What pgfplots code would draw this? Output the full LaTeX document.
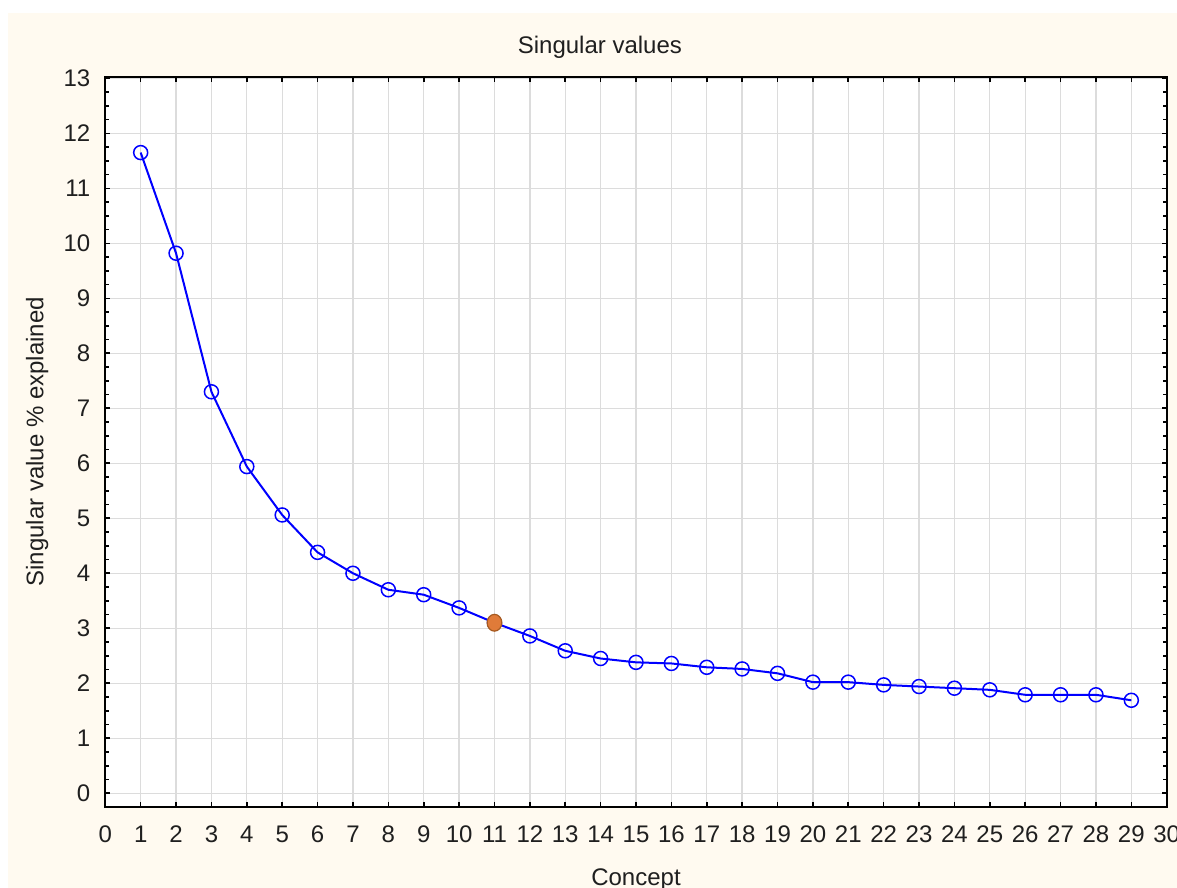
\documentclass[border=0pt]{standalone}
\usepackage{fontspec}
\setmainfont{Liberation Sans}
\usepackage{pgfplots}
\pgfplotsset{compat=1.18}
\definecolor{cream}{HTML}{FFFAF0}
\definecolor{gridgray}{HTML}{DCDCDC}
\definecolor{dotorange}{HTML}{E07B39}
\definecolor{dotedge}{HTML}{A65A20}
\begin{document}
\fontsize{12}{14}\selectfont
\begin{tikzpicture}
\path[use as bounding box, fill=white] (-52.65pt,-40.65pt) rectangle (535.85pt,403.35pt);
\fill[cream] (-48.65pt,-40.65pt) rectangle (535.85pt,396.85pt);
\begin{axis}[
  scale only axis, width=530.7pt, height=365pt,
  xmin=0, xmax=30, ymin=-0.245, ymax=13.03,
  xtick={0,...,30}, ytick={0,...,13},
  minor y tick num=3,
  grid=major, major grid style={gridgray, line width=0.65pt},
  tick align=inside,
  major tick length=2.5pt, minor tick length=2pt,
  every tick/.style={black, line width=0.8pt},
  axis line style={black, line width=1pt},
  axis background/.style={fill=white},
  tick label style={font=\fontsize{12}{14}\selectfont, text=black!88},
  /pgf/number format/assume math mode=true,
  xticklabel style={yshift=-5.2pt},
  yticklabel style={xshift=-3.3pt},
  every axis title shift=0pt,
  title={Singular values},
  title style={at={(axis description cs:0.466,1.0311)}, anchor=base, text=black!88},
  xlabel={Concept},
  xlabel style={at={(axis description cs:0.5,-0.1073)}, anchor=base, text=black!88},
  ylabel={Singular value \% explained},
  ylabel style={at={(axis description cs:-0.0584,0.5)}, anchor=base, text=black!88},
]
\addplot[blue, line width=1pt, mark=o, mark size=3.5pt, mark options={solid, line width=0.75pt}] coordinates {
(1,11.65) (2,9.82) (3,7.30) (4,5.94) (5,5.06) (6,4.38) (7,4.00) (8,3.70) (9,3.61) (10,3.37)
(11,3.10) (12,2.86) (13,2.59) (14,2.45) (15,2.38) (16,2.36) (17,2.29) (18,2.26) (19,2.18) (20,2.02)
(21,2.02) (22,1.97) (23,1.94) (24,1.91) (25,1.88) (26,1.79) (27,1.79) (28,1.79) (29,1.69)
};
\addplot[only marks, mark=*, mark size=4pt, mark options={fill=dotorange, draw=dotedge, line width=0.6pt, xscale=0.92, yscale=1.05}] coordinates {(11,3.10)};
\end{axis}
\end{tikzpicture}
\end{document}
